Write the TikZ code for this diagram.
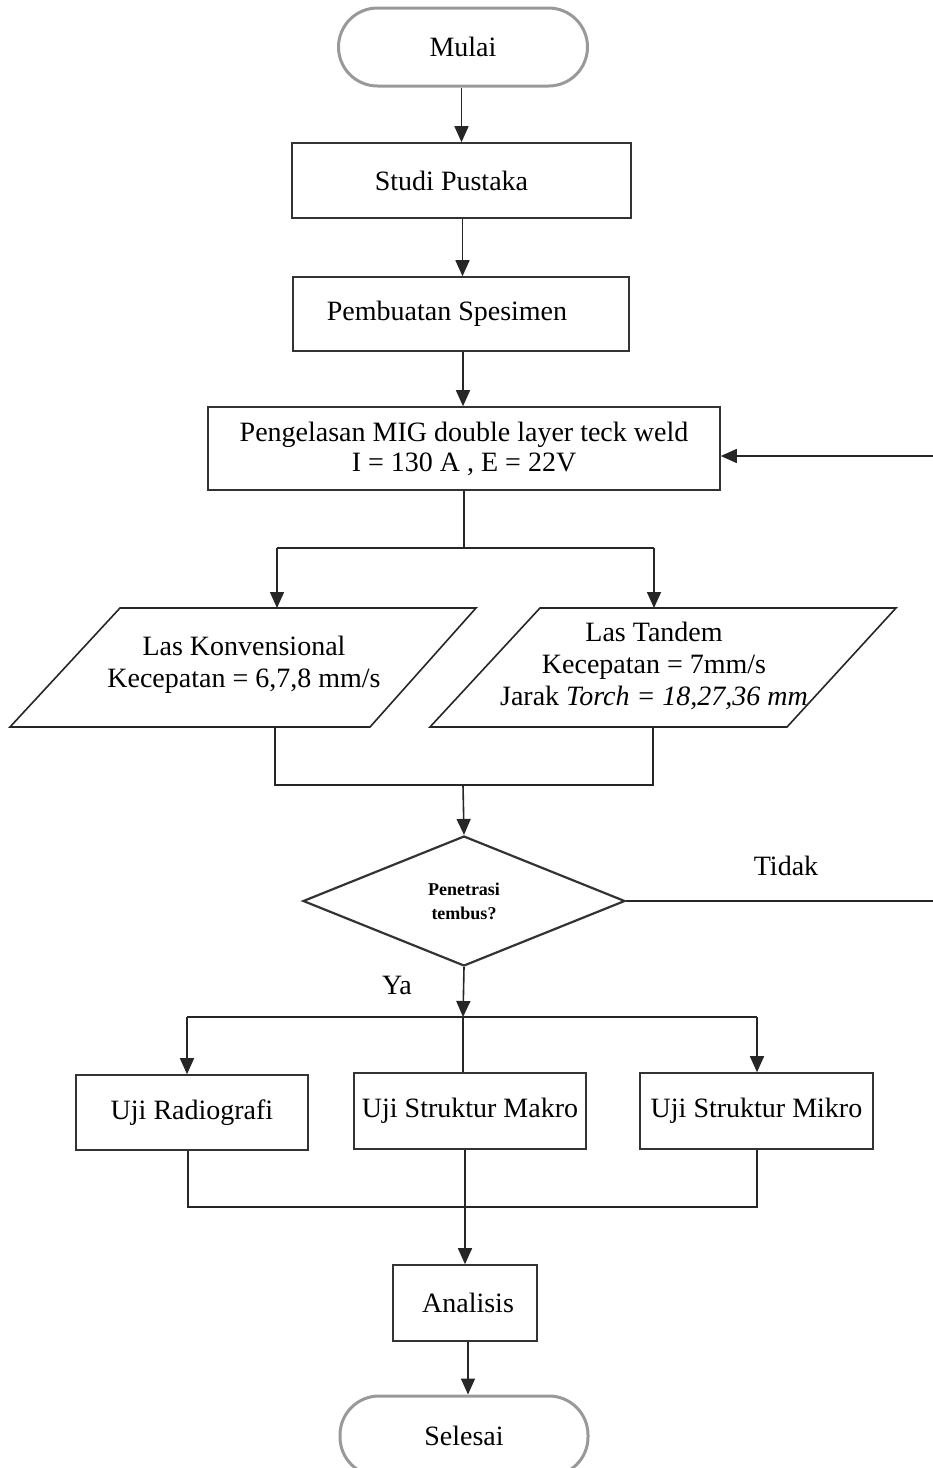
\documentclass[tikz,border=0pt]{standalone}
\usepackage{fontspec}
\setmainfont{Liberation Serif}
\usetikzlibrary{shapes.geometric,arrows.meta}
\begin{document}
\begin{tikzpicture}[x=1pt,y=-1pt,
  line/.style={draw=black!85,line width=1.6pt},
  arr/.style={line,-{Triangle[length=16pt,width=14pt]}},
  box/.style={draw=black!80,line width=1.6pt,rectangle,inner sep=0pt,align=center,font=\fontsize{28}{30}\selectfont},
  term/.style={draw=black!40,line width=3pt,rectangle,rounded corners=39pt,inner sep=0pt,font=\fontsize{28}{31}\selectfont},
  txt/.style={inner sep=0pt,align=center,font=\fontsize{28}{32}\selectfont},
  dec/.style={draw=black!80,line width=2.2pt,diamond,inner sep=0pt,align=center,font=\bfseries\fontsize{18}{24}\selectfont},
  lbl/.style={inner sep=0pt,font=\fontsize{28}{32}\selectfont}]
\useasboundingbox (0,0) rectangle (933,1468);
% nodes
\node[term,minimum width=249pt,minimum height=78pt] (mulai) at (463,47) {Mulai};
\node[box,minimum width=339pt,minimum height=75pt] (studi) at (461.5,180.5) {Studi Pustaka\hspace*{20pt}};
\node[box,minimum width=336pt,minimum height=74pt] (pemb) at (461,314) {Pembuatan Spesimen\hspace*{28pt}};
\node[box,minimum width=512pt,minimum height=83pt] (peng) at (464,448.5) {Pengelasan MIG double layer teck weld\\I = 130 A , E = 22V};
% parallelograms
\draw[line,line width=1.6pt] (120,608) -- (476,608) -- (370,727) -- (10,727) -- cycle;
\draw[line,line width=1.6pt] (540,608) -- (896,608) -- (787,727) -- (430,727) -- cycle;
\node[txt] (lk) at (244,665) {Las Konvensional\\Kecepatan = 6,7,8 mm/s};
\node[txt] (lt) at (654,666) {Las Tandem\\Kecepatan = 7mm/s\\Jarak \textit{Torch = 18,27,36 mm}};
\node[dec,minimum width=322pt,minimum height=130pt] (d) at (464,901) {Penetrasi\\tembus?};
\node[box,minimum width=232pt,minimum height=75pt] (ur) at (192,1112.5) {Uji Radiografi};
\node[box,minimum width=232pt,minimum height=76pt] (um) at (470,1111) {Uji Struktur Makro};
\node[box,minimum width=233pt,minimum height=76pt] (umi) at (756.5,1111) {Uji Struktur Mikro};
\node[box,minimum width=144pt,minimum height=76pt] (an) at (465,1303) {\hspace*{6pt}Analisis};
\node[term,minimum width=248pt,minimum height=80pt] (sel) at (464,1436) {Selesai};
\node[lbl] (tidak) at (786,866) {Tidak};
\node[lbl] (ya) at (397,985) {Ya};
% junction coordinates
\coordinate (s1) at (464,548);
\coordinate (s1l) at (277,548);
\coordinate (s1r) at (654,548);
\coordinate (p1l) at (277,608);
\coordinate (p1r) at (654,608);
\coordinate (b1l) at (275,727);
\coordinate (b1r) at (653,727);
\coordinate (j1l) at (275,785);
\coordinate (j1r) at (653,785);
\coordinate (j1) at (463,785);
\coordinate (s2) at (463,1017);
\coordinate (s2l) at (187,1017);
\coordinate (s2r) at (757,1017);
\coordinate (j2l) at (188,1207);
\coordinate (j2r) at (757,1207);
\coordinate (fbA) at (933,901);
\coordinate (fbB) at (933,456);
% connectors
\draw[arr] (mulai.south -| studi.north) -- (studi.north);
\draw[arr] ([xshift=1pt]studi.south) -- ([xshift=1pt]studi.south |- pemb.north);
\draw[arr] ([xshift=2pt]pemb.south) -- ([xshift=2pt]pemb.south |- peng.north);
\draw[line] (peng.south) -- (s1);
\draw[line] (s1l) -- (s1r);
\draw[arr] (s1l) -- (p1l);
\draw[arr] (s1r) -- (p1r);
\draw[line] (b1l) -- (j1l) -- (j1r) -- (b1r);
\draw[arr] (j1) -- (d.north);
\draw[line] (d.east) -- (fbA);
\draw[arr] (fbB) -- (fbB -| peng.east);
\draw[arr] (d.south) -- (s2);
\draw[line] (s2l) -- (s2r);
\draw[arr] (s2l) -- (s2l |- ur.north);
\draw[arr] (s2r) -- (s2r |- umi.north);
\draw[line] (s2) -- (s2 |- um.north);
\draw[line] (j2l |- ur.south) -- (j2l) -- (j2r) -- (j2r |- umi.south);
\draw[arr] (an.north |- um.south) -- (an.north);
\draw[arr] ([xshift=3pt]an.south) -- ([xshift=3pt]an.south |- sel.north);
\end{tikzpicture}
\end{document}
